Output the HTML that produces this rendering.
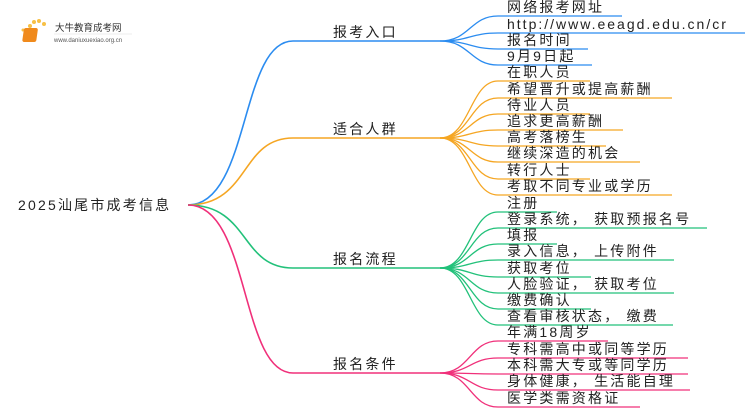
<!DOCTYPE html>
<html><head><meta charset="utf-8"><style>
html,body{margin:0;padding:0;background:#fff;}
svg text{font-family:"Liberation Sans","Noto Sans CJK SC",sans-serif;font-size:14px;letter-spacing:2.2px;fill:#222;}
</style></head><body>
<svg width="750" height="410" xmlns="http://www.w3.org/2000/svg">
<g>
<circle cx="30" cy="26" r="2" fill="#f7c046"/><circle cx="34" cy="22" r="2" fill="#f7c046"/><circle cx="39" cy="21" r="2" fill="#f7c046"/><circle cx="44" cy="24" r="2" fill="#f7c046"/><circle cx="23" cy="30" r="1.5" fill="#f7c046"/>
<rect x="28" y="28" width="14" height="14" rx="2" fill="#f08a1c" transform="skewX(-8)"/>
<text x="55" y="31" style="font-size:9.5px;letter-spacing:0;fill:#333">大牛教育成考网</text>
<text x="54" y="42" style="font-size:6px;letter-spacing:0;fill:#555">www.daniuxuexiao.org.cn</text>
<line x1="54" y1="34" x2="132" y2="34" stroke="#ddd" stroke-width="0.6"/>
</g>
<text x="18" y="210">2025汕尾市成考信息</text>
<g fill="none" stroke-width="1.6">
<path d="M188 205 C250 205 240 41 293 41 H440" stroke="#2b8cf0"/>
<path d="M188 205 C250 205 240 138 293 138 H440" stroke="#f5a623"/>
<path d="M188 205 C250 205 240 268 293 268 H440" stroke="#22c17a"/>
<path d="M188 205 C250 205 240 373 293 373 H440" stroke="#f0307a"/>
</g>
<text x="333" y="37">报考入口</text>
<text x="333" y="134">适合人群</text>
<text x="333" y="264">报名流程</text>
<text x="333" y="369">报名条件</text>
<g fill="none" stroke-width="1.3" stroke="#2b8cf0">
<path d="M440 41 C470 41 470 16 498 16 H622"/>
<path d="M440 41 C470 41 470 33 498 33 H745"/>
<path d="M440 41 C470 41 470 49 498 49 H588"/>
<path d="M440 41 C470 41 470 65 498 65 H592"/>
</g>
<g fill="none" stroke-width="1.3" stroke="#f5a623">
<path d="M440 138 C470 138 470 81 498 81 H590"/>
<path d="M440 138 C470 138 470 98 498 98 H672"/>
<path d="M440 138 C470 138 470 114 498 114 H590"/>
<path d="M440 138 C470 138 470 130 498 130 H623"/>
<path d="M440 138 C470 138 470 146 498 146 H606"/>
<path d="M440 138 C470 138 470 162 498 162 H640"/>
<path d="M440 138 C470 138 470 179 498 179 H590"/>
<path d="M440 138 C470 138 470 195 498 195 H672"/>
</g>
<g fill="none" stroke-width="1.3" stroke="#22c17a">
<path d="M440 268 C470 268 470 212 498 212 H557"/>
<path d="M440 268 C470 268 470 228 498 228 H707"/>
<path d="M440 268 C470 268 470 244 498 244 H557"/>
<path d="M440 268 C470 268 470 260 498 260 H674"/>
<path d="M440 268 C470 268 470 277 498 277 H591"/>
<path d="M440 268 C470 268 470 293 498 293 H674"/>
<path d="M440 268 C470 268 470 309 498 309 H591"/>
<path d="M440 268 C470 268 470 325 498 325 H673"/>
</g>
<g fill="none" stroke-width="1.3" stroke="#f0307a">
<path d="M440 373 C470 373 470 341 498 341 H608"/>
<path d="M440 373 C470 373 470 358 498 358 H688"/>
<path d="M440 373 C470 373 470 374 498 374 H688"/>
<path d="M440 373 C470 373 470 390 498 390 H690"/>
<path d="M440 373 C470 373 470 407 498 407 H640"/>
</g>
<g transform="translate(0,-1)">
<text x="507" y="13">网络报考网址</text>
<text x="507" y="30" style="letter-spacing:2px">http://www.eeagd.edu.cn/cr</text>
<text x="507" y="46">报名时间</text>
<text x="507" y="62">9月9日起</text>
<text x="507" y="78">在职人员</text>
<text x="507" y="95">希望晋升或提高薪酬</text>
<text x="507" y="111">待业人员</text>
<text x="507" y="127">追求更高薪酬</text>
<text x="507" y="143">高考落榜生</text>
<text x="507" y="159">继续深造的机会</text>
<text x="507" y="176">转行人士</text>
<text x="507" y="192">考取不同专业或学历</text>
<text x="507" y="209">注册</text>
<text x="507" y="225">登录系统， 获取预报名号</text>
<text x="507" y="241">填报</text>
<text x="507" y="257">录入信息， 上传附件</text>
<text x="507" y="274">获取考位</text>
<text x="507" y="290">人脸验证， 获取考位</text>
<text x="507" y="306">缴费确认</text>
<text x="507" y="322">查看审核状态， 缴费</text>
<text x="507" y="338">年满18周岁</text>
<text x="507" y="355">专科需高中或同等学历</text>
<text x="507" y="371">本科需大专或等同学历</text>
<text x="507" y="387">身体健康， 生活能自理</text>
<text x="507" y="404">医学类需资格证</text>
</g>
</svg>
</body></html>
